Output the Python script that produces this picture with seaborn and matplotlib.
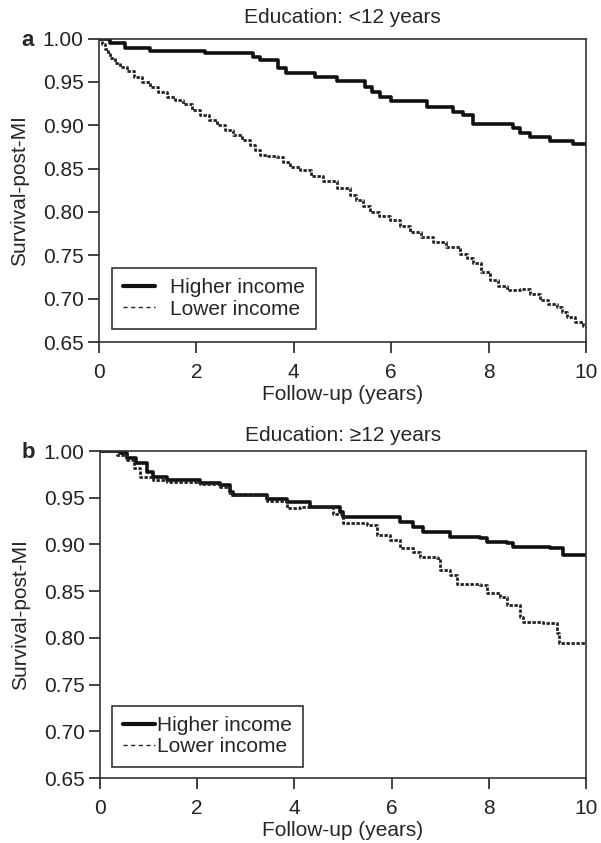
import matplotlib
matplotlib.use('Agg')
import matplotlib.pyplot as plt
import seaborn as sns
import pandas as pd

# Panel a: education < 12 years (step points)
a_high_t = [0, 0.23, 0.53, 1.05, 2.18, 3.17, 3.30, 3.68, 3.85, 4.44, 4.88, 5.46, 5.60, 5.77,
            6.00, 6.73, 7.27, 7.48, 7.68, 8.50, 8.64, 8.85, 9.26, 9.73, 10.0]
a_high_s = [1.000, 0.995, 0.989, 0.9855, 0.983, 0.979, 0.975, 0.966, 0.960, 0.956, 0.951, 0.944,
            0.9386, 0.933, 0.928, 0.9205, 0.9155, 0.912, 0.901, 0.8966, 0.891, 0.8866, 0.882,
            0.878, 0.878]
a_low_t = [0, 0.06, 0.12, 0.18, 0.23, 0.33, 0.43, 0.57, 0.71, 0.88, 1.05, 1.22, 1.39, 1.56,
           1.73, 1.90, 2.07, 2.25, 2.42, 2.59, 2.76, 2.93, 3.10, 3.20, 3.31, 3.48, 3.65, 3.78,
           3.92, 4.13, 4.36, 4.60, 4.88, 5.15, 5.27, 5.42, 5.56, 5.76, 5.97, 6.18, 6.39, 6.62,
           6.86, 7.13, 7.41, 7.55, 7.68, 7.85, 8.03, 8.20, 8.38, 8.52, 8.65, 8.85, 9.06, 9.23,
           9.40, 9.50, 9.61, 9.78, 9.94, 10.0]
a_low_s = [1.000, 0.994, 0.988, 0.982, 0.977, 0.972, 0.9675, 0.962, 0.956, 0.950, 0.944,
           0.938, 0.933, 0.929, 0.925, 0.918, 0.912, 0.906, 0.900, 0.894, 0.889, 0.883, 0.877,
           0.872, 0.866, 0.865, 0.8635, 0.858, 0.852, 0.848, 0.842, 0.836, 0.828, 0.819,
           0.8135, 0.807, 0.800, 0.795, 0.7904, 0.784, 0.777, 0.771, 0.7654, 0.759, 0.752,
           0.747, 0.741, 0.731, 0.721, 0.715, 0.7095, 0.710, 0.711, 0.705, 0.698, 0.694, 0.690,
           0.685, 0.679, 0.673, 0.668, 0.667]

# Panel b: education >= 12 years
b_high_t = [0, 0.41, 0.55, 0.75, 0.96, 1.09, 1.37, 2.06, 2.47, 2.67, 2.74, 3.43, 3.84, 4.32,
            4.94, 5.00, 5.62, 6.17, 6.45, 6.65, 7.20, 7.82, 7.96, 8.37, 8.50, 9.26, 9.53, 10.0]
b_high_s = [1.000, 0.9975, 0.992, 0.987, 0.978, 0.9725, 0.969, 0.966, 0.9636, 0.9564, 0.953,
            0.949, 0.9457, 0.940, 0.935, 0.9297, 0.929, 0.9243, 0.919, 0.9136, 0.908, 0.9065,
            0.903, 0.901, 0.8975, 0.896, 0.8886, 0.8886]
b_low_t = [0, 0.35, 0.55, 0.70, 0.82, 1.09, 1.37, 2.06, 2.47, 2.67, 3.43, 3.84, 4.12, 4.79,
           5.00, 5.49, 5.69, 5.97, 6.17, 6.45, 6.58, 6.93, 7.00, 7.20, 7.34, 7.82, 7.96, 8.23,
           8.37, 8.64, 8.71, 9.12, 9.40, 9.45, 10.0]
b_low_s = [1.000, 0.996, 0.990, 0.982, 0.9725, 0.969, 0.967, 0.965, 0.962, 0.953, 0.946,
           0.9386, 0.940, 0.933, 0.9226, 0.9208, 0.910, 0.9047, 0.896, 0.892, 0.887, 0.886,
           0.8726, 0.867, 0.858, 0.857, 0.8476, 0.844, 0.835, 0.8226, 0.817, 0.8155, 0.805,
           0.795, 0.795]

titles = ['Education: <12 years', 'Education: \u226512 years']
panel_tags = ['a', 'b']
series_names = ['Higher income', 'Lower income']
x_ticks = [0, 2, 4, 6, 8, 10]
y_ticks = [0.65, 0.70, 0.75, 0.80, 0.85, 0.90, 0.95, 1.00]

sns.set_theme(style='ticks')
plt.rcParams['font.family'] = ['Liberation Sans', 'DejaVu Sans']

fig = plt.figure(figsize=(6.01, 8.43), dpi=100)
ax_a = fig.add_axes([0.1647, 0.5943, 0.8103, 0.3600])
ax_b = fig.add_axes([0.1664, 0.0771, 0.8087, 0.3879])

# axes, data, legend anchor, handle-text gap, title pad
panels = [
    (ax_a, a_high_t, a_high_s, a_low_t, a_low_s, (0.027, 0.043), 0.75, 11),
    (ax_b, b_high_t, b_high_s, b_low_t, b_low_s, (0.025, 0.034), 0.12, 7),
]

FS = 15

for i, (ax, ht, hs, lt, ls_, leg_pos, hpad, tpad) in enumerate(panels):
    hi = pd.DataFrame({'t': ht, 's': hs})
    lo = pd.DataFrame({'t': lt, 's': ls_})
    sns.lineplot(data=hi, x='t', y='s', ax=ax, color='#111111', lw=2.6,
                 drawstyle='steps-post', estimator=None, sort=False, label=series_names[0])
    sns.lineplot(data=lo, x='t', y='s', ax=ax, color='#222222', lw=2.0,
                 linestyle=(0, (1.2, 0.6)), drawstyle='steps-post', estimator=None,
                 sort=False, label=series_names[1])
    ax.set_xlim(0, 10)
    ax.set_ylim(0.65, 1.00)
    ax.set_xticks(x_ticks)
    ax.set_yticks(y_ticks)
    ax.set_yticklabels([f'{v:.2f}' for v in y_ticks])
    ax.tick_params(direction='out', length=8, width=1.2, labelsize=FS, colors='#222222')
    ax.tick_params(axis='x', pad=7)
    ax.tick_params(axis='y', pad=3)
    for sp in ax.spines.values():
        sp.set_visible(True)
        sp.set_linewidth(1.2)
        sp.set_color('#333333')
    ax.set_xlabel('Follow-up (years)', fontsize=FS, labelpad=2)
    ax.set_ylabel('Survival-post-MI', fontsize=FS, labelpad=10)
    ax.set_title(titles[i], fontsize=FS, pad=tpad)
    leg = ax.legend(loc='lower left', bbox_to_anchor=leg_pos,
                    borderaxespad=0, fontsize=FS, frameon=True, fancybox=False,
                    edgecolor='#333333', framealpha=1, handlelength=1.55,
                    handletextpad=hpad, labelspacing=0.1, borderpad=0.5)
    leg.get_frame().set_linewidth(1.2)
    # legend sample for the lower-income series is a thin dashed line
    leg_lines = leg.get_lines()
    leg_lines[0].set_linewidth(3.0)
    leg_lines[1].set_linestyle((0, (3, 2.5)))
    leg_lines[1].set_linewidth(1.0)

fig.text(0.046, 0.952, panel_tags[0], fontsize=16, fontweight='bold', ha='center', va='center')
fig.text(0.047, 0.463, panel_tags[1], fontsize=16, fontweight='bold', ha='center', va='center')

fig.savefig('out.png', dpi=100)
